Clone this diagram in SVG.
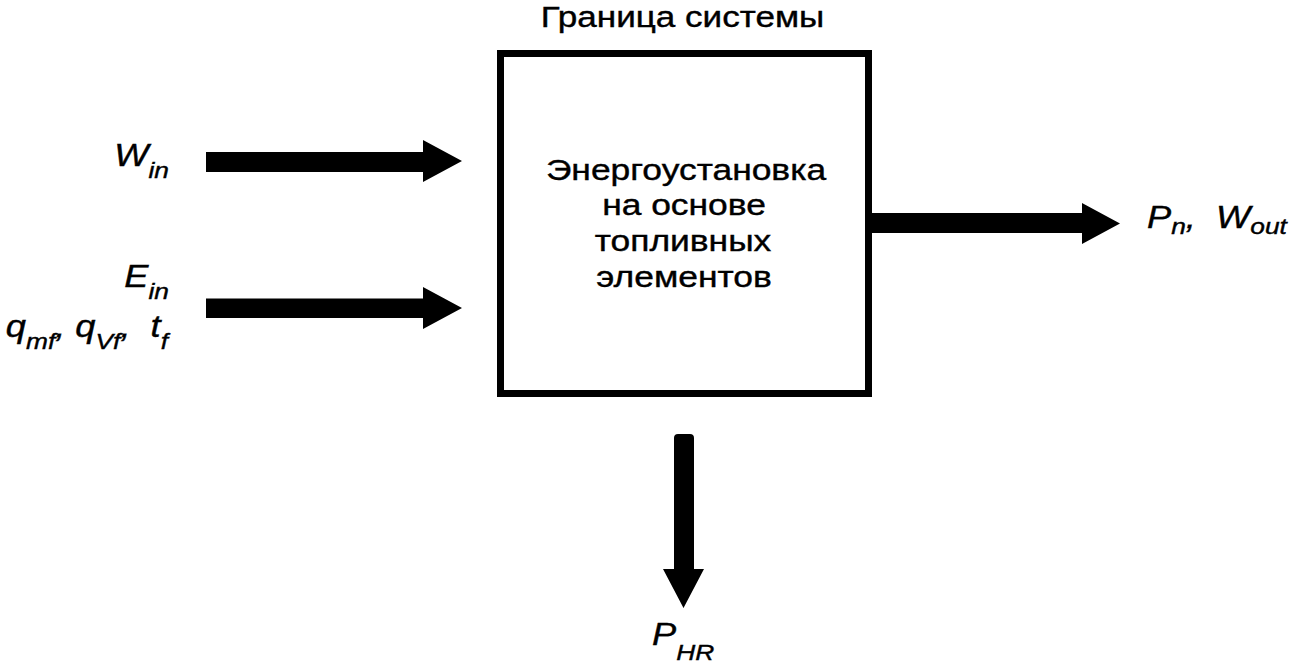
<svg xmlns="http://www.w3.org/2000/svg" width="1289" height="663" viewBox="0 0 1289 663">
<style>
  .t { font-family: "Liberation Sans", Arial, sans-serif; fill: #000; stroke: #000; stroke-width: 0.4; }
  .lbl { font-family: "Liberation Sans", Arial, sans-serif; font-style: italic; font-size: 31px; fill: #000; stroke: #000; stroke-width: 0.4; white-space: pre; }
  .sub { font-size: 22.5px; }
  .arrow { fill: #000; stroke: none; }
  .box { fill: #fff; stroke: #000; stroke-width: 7; }
</style>
<rect width="1289" height="663" fill="#fff"/>
<g id="title">
  <text class="t" font-size="30" transform="matrix(1.17 0 0 1 682.5 27)" text-anchor="middle">Граница системы</text>
</g>
<g id="system">
  <rect class="box" x="500.5" y="53.5" width="368" height="340"/>
  <g class="t" font-size="30" text-anchor="middle">
    <text transform="matrix(1.18 0 0 1 686 180)">Энергоустановка</text>
    <text transform="matrix(1.18 0 0 1 684 215)">на основе</text>
    <text transform="matrix(1.18 0 0 1 683 251)">топливных</text>
    <text transform="matrix(1.18 0 0 1 684 287)">элементов</text>
  </g>
</g>
<g id="connectors">
  <polygon class="arrow" points="206,152 423,152 423,140 462,161 423,182 423,172 206,172"/>
  <polygon class="arrow" points="206,298.5 423,298.5 423,287 462,308 423,329 423,318 206,318"/>
  <polygon class="arrow" points="870,213 1082,213 1082,203 1120,223.5 1082,244 1082,233 870,233"/>
  <path class="arrow" d="M674,438 Q674,434 678,434 L690,434 Q694,434 694,438 L694,569 L704,569 L683.5,608 L663,569 L674,569 Z"/>
</g>
<g id="label-win">
  <text class="lbl" text-anchor="end" transform="matrix(1.17 0 0 1 169 166)">W<tspan class="sub" dy="12">in</tspan></text>
</g>
<g id="label-ein">
  <text class="lbl" text-anchor="end" transform="matrix(1.17 0 0 1 169 287)">E<tspan class="sub" dy="12">in</tspan></text>
</g>
<g id="label-q">
  <text class="lbl" text-anchor="end" transform="matrix(1.17 0 0 1 168 337)" xml:space="preserve">q<tspan class="sub" dy="12">mf</tspan><tspan dy="-12">, q</tspan><tspan class="sub" dy="12">Vf</tspan><tspan dy="-12">,  t</tspan><tspan class="sub" dy="12">f</tspan></text>
</g>
<g id="label-out">
  <text class="lbl" transform="matrix(1.17 0 0 1 1147 228)" xml:space="preserve">P<tspan class="sub" dy="6">n</tspan><tspan dy="-6">,  W</tspan><tspan class="sub" dy="6">out</tspan></text>
</g>
<g id="label-phr">
  <text class="lbl" transform="matrix(1.17 0 0 1 652 645)">P<tspan class="sub" dy="15">HR</tspan></text>
</g>
</svg>
